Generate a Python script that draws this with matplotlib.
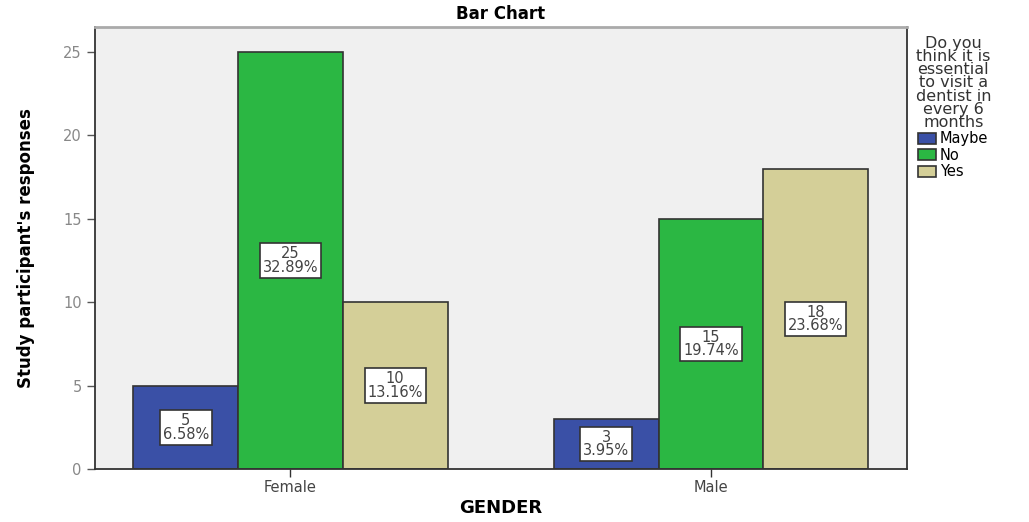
import matplotlib.pyplot as plt
import numpy as np

# data
genders = ['Female', 'Male']
answers = ['Maybe', 'No', 'Yes']
maybe = [5, 3]
no = [25, 15]
yes = [10, 18]
maybe_pct = ['6.58%', '3.95%']
no_pct = ['32.89%', '19.74%']
yes_pct = ['13.16%', '23.68%']

colors = ['#3a50a6', '#2bb743', '#d4cf98']

plt.rcParams['font.family'] = ['DejaVu Sans']

fig = plt.figure(figsize=(10.29, 5.22), dpi=100)
ax = fig.add_axes([0.0923, 0.1015, 0.789, 0.8467])
ax.set_facecolor('#f0f0f0')

x = np.arange(len(genders))
w = 0.249
series = [(maybe, maybe_pct), (no, no_pct), (yes, yes_pct)]
for i, (vals, pcts) in enumerate(series):
    pos = x + (i - 1) * w
    ax.bar(pos, vals, w, color=colors[i], edgecolor='#333333', linewidth=1.2,
           label=answers[i], zorder=2)
    for p, v, t in zip(pos, vals, pcts):
        ax.text(p, v / 2, str(v) + '\n' + t, ha='center', va='center',
                fontsize=10.5, color='#444444', linespacing=0.9, zorder=3,
                bbox=dict(boxstyle='square,pad=0.2', fc='white', ec='#333333', lw=1.2))

ax.set_xlim(-0.465, 1.466)
ax.set_ylim(0, 26.5)
ax.set_xticks(x)
ax.set_xticklabels(genders, fontsize=10.5, color='#444444')
ax.set_yticks([0, 5, 10, 15, 20, 25])
ax.set_yticklabels(['0', '5', '10', '15', '20', '25'], fontsize=10.5, color='#888888')
ax.tick_params(axis='y', length=6, width=1, color='#555555')
ax.tick_params(axis='x', length=6, width=1, color='#333333', direction='out', pad=2)

for s in ['left', 'bottom', 'right']:
    ax.spines[s].set_color('#333333')
    ax.spines[s].set_linewidth(1.3)
ax.spines['top'].set_color('#aaaaaa')
ax.spines['top'].set_linewidth(2)

ax.set_title('Bar Chart', fontsize=12, fontweight='bold', pad=6)
ax.set_xlabel('GENDER', fontsize=13, fontweight='bold', labelpad=3)
ax.set_ylabel("Study participant's responses", fontsize=12, fontweight='bold',
              labelpad=20)

leg = ax.legend(title='Do you\nthink it is\nessential\nto visit a\ndentist in\nevery 6\nmonths',
                loc='upper left', bbox_to_anchor=(1.0, 1.0), frameon=False,
                fontsize=10.5, title_fontsize=11.5, handlelength=1.2, handleheight=0.8,
                handletextpad=0.3, labelspacing=0.1, borderaxespad=0.2)
leg.get_title().set_linespacing(0.85)
leg.get_title().set_ha('center')
leg.get_title().set_color('#333333')

fig.savefig('out.png', dpi=100)
